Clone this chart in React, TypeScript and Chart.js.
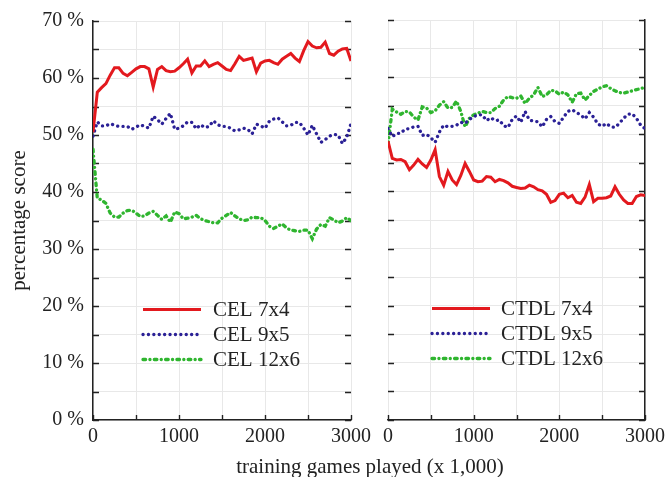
import React, { useEffect, useRef } from "react";
import { Chart, registerables } from "chart.js";
Chart.register(...registerables);

const xs = [0, 50, 100, 150, 200, 250, 300, 350, 400, 450, 500, 550, 600, 650, 700, 750, 800, 850, 900, 950, 1000, 1050, 1100, 1150, 1200, 1250, 1300, 1350, 1400, 1450, 1500, 1550, 1600, 1650, 1700, 1750, 1800, 1850, 1900, 1950, 2000, 2050, 2100, 2150, 2200, 2250, 2300, 2350, 2400, 2450, 2500, 2550, 2600, 2650, 2700, 2750, 2800, 2850, 2900, 2950, 3000];

const cel74 = [50.5, 57.5, 58.3, 59, 60.5, 61.8, 61.8, 60.8, 60.4, 61, 61.6, 62, 62, 61.6, 58.4, 61.5, 62, 61.3, 61.1, 61.2, 61.8, 62.5, 63.3, 60.9, 62.1, 62.1, 63, 62, 62.4, 62.7, 62.1, 61.5, 61.3, 62.5, 63.8, 63.1, 63.3, 63.5, 61.1, 62.6, 63, 63.1, 62.7, 62.4, 63.3, 63.8, 64.3, 63.5, 62.9, 64.8, 66.4, 65.6, 65.3, 65.4, 66.3, 64.3, 64, 64.7, 65.1, 65.2, 63];
const cel95 = [49.8, 52.3, 51.6, 51.6, 52, 51.7, 51.5, 51.5, 51.5, 51, 51.4, 51.8, 51.5, 51.2, 53.3, 52.7, 51.9, 52.9, 53.8, 51, 51.2, 51.6, 52.3, 52.2, 51.1, 51.8, 51.3, 51.5, 52.5, 51.8, 51.5, 51.5, 51.2, 50.7, 50.9, 51.2, 51, 50.2, 51.9, 51.6, 51.2, 52.4, 52.8, 53, 52.3, 51.6, 51.7, 52.2, 52.2, 51.2, 50, 51.7, 50.2, 48.7, 49.2, 49.8, 50.1, 50, 48.5, 49.6, 52];
const cel126 = [47.5, 38.9, 38.6, 38, 36.3, 35.6, 35.6, 36.3, 36.75, 36.8, 36.3, 35.7, 35.8, 36.3, 36.6, 35.9, 35.2, 35.8, 34.7, 36.5, 36.2, 35.3, 35.4, 35.6, 35.9, 35.3, 35, 34.8, 34.6, 34.6, 35.4, 35.9, 36.4, 35.8, 35.3, 35, 35.1, 35.6, 35.5, 35.5, 35, 34, 33.6, 34, 34.4, 33.7, 33.3, 33.2, 33.1, 33.3, 33.3, 31.8, 33.5, 34.3, 34, 35.5, 35.1, 34.6, 34.9, 35.5, 35];

const ctdl74 = [48.8, 45.8, 45.5, 45.6, 45.2, 43.8, 44.6, 45.6, 44.8, 44.2, 45.5, 47.3, 42.6, 41.1, 43.5, 42, 41.2, 42.8, 44.9, 43.5, 42, 41.7, 41.8, 42.6, 42.5, 41.7, 42.1, 41.9, 41.5, 40.9, 40.7, 40.5, 40.6, 41.1, 40.8, 40.3, 40.1, 39.5, 38.1, 38.4, 39.5, 39.7, 38.9, 39.3, 38.1, 37.9, 39, 41.2, 38.2, 38.8, 38.8, 38.9, 39.2, 40.8, 39.5, 38.5, 37.9, 37.9, 39.1, 39.4, 39.3];
const ctdl95 = [51, 49.6, 50.1, 50.2, 50.9, 51, 51.3, 51.4, 49.8, 50, 49.4, 48.6, 50.4, 51.6, 51.3, 51.4, 51.6, 52.1, 51.9, 52.6, 53.1, 53.4, 53.4, 52.4, 52.9, 52.4, 52.5, 51.5, 51.2, 52.6, 53.2, 52.1, 54, 52.5, 52.3, 52.2, 51.3, 52.6, 53.1, 52.2, 51.9, 53, 54, 54.3, 53.8, 53.4, 52.7, 53.8, 53, 51.8, 51.4, 51.9, 51.3, 51.2, 51.9, 52.8, 53.5, 53.6, 52.8, 51.6, 51];
const ctdl126 = [48.2, 54.4, 53.9, 53.5, 54, 53.9, 53, 52.5, 54.8, 54.6, 53.8, 54.1, 55.1, 55.7, 54.6, 54.7, 55.8, 54, 51.3, 52.8, 53.4, 53.7, 54, 53.8, 53.8, 54.5, 54.9, 56, 56.6, 56.4, 56.3, 56.7, 55.4, 56.3, 56.9, 58.2, 56.6, 56.9, 57.7, 57.6, 57, 57.4, 56.9, 55.6, 57.1, 57.2, 56, 56.8, 57.5, 57.9, 58.3, 58.5, 58, 57.6, 57.3, 57.2, 57.4, 57.6, 57.8, 58, 58.2];

const leftNames = ["CEL 7x4", "CEL 9x5", "CEL 12x6"];
const rightNames = ["CTDL 7x4", "CTDL 9x5", "CTDL 12x6"];
const yTitle = "percentage score";
const xTitle = "training games played (x 1,000)";

const FONT = '"Liberation Serif", "Times New Roman", serif';
const TEXT = "#222";
const RED = "#e3191e";
const BLUE = "#2b2196";
const GREEN = "#2fb52f";

const styles = [
  { borderColor: RED, borderWidth: 3, borderDash: [] as number[], borderCapStyle: "butt" },
  { borderColor: BLUE, borderWidth: 3.3, borderDash: [0.1, 5.3], borderCapStyle: "round" },
  { borderColor: GREEN, borderWidth: 3.3, borderDash: [2.6, 4.3, 0.1, 4.3], borderCapStyle: "round" },
];

const innerTicks = {
  id: "innerTicks",
  beforeDatasetsDraw(chart: any) {
    const { ctx, chartArea: a, scales } = chart;
    const x = scales.x;
    const y = scales.y;
    ctx.save();
    ctx.strokeStyle = TEXT;
    ctx.lineWidth = 1.4;
    ctx.beginPath();
    y.ticks.forEach((t: any) => {
      const py = Math.round(y.getPixelForValue(t.value)) + 0.5;
      ctx.moveTo(a.left, py);
      ctx.lineTo(a.left + 6, py);
      ctx.moveTo(a.right, py);
      ctx.lineTo(a.right - 6, py);
    });
    x.ticks.forEach((t: any) => {
      const px = Math.round(x.getPixelForValue(t.value)) + 0.5;
      ctx.moveTo(px, a.bottom);
      ctx.lineTo(px, a.bottom - 5);
    });
    ctx.stroke();
    ctx.restore();
  },
};

const panelLegend = {
  id: "panelLegend",
  afterDatasetsDraw(chart: any, _args: any, opts: any) {
    const { ctx, chartArea: a } = chart;
    ctx.save();
    ctx.font = `21px ${FONT}`;
    ctx.fillStyle = TEXT;
    ctx.textBaseline = "middle";
    chart.data.datasets.forEach((ds: any, i: number) => {
      const y = a.top + opts.top + i * opts.gap;
      ctx.beginPath();
      ctx.strokeStyle = ds.borderColor;
      ctx.lineWidth = ds.borderWidth;
      ctx.lineCap = ds.borderCapStyle;
      ctx.setLineDash(ds.borderDash);
      ctx.moveTo(a.left + opts.lineX, y);
      ctx.lineTo(a.left + opts.lineX + opts.lineLen, y);
      ctx.stroke();
      ctx.setLineDash([]);
      ctx.fillText(ds.label, a.left + opts.textX, y + 1);
    });
    ctx.restore();
  },
};

function makeConfig(series: number[][], names: string[], left: boolean): any {
  return {
    type: "line",
    data: {
      datasets: series.map((vals, i) => ({
        label: names[i],
        data: xs.map((x, j) => ({ x, y: vals[j] })),
        ...styles[i],
        pointRadius: 0,
        tension: 0,
        fill: false,
      })),
    },
    plugins: [innerTicks, panelLegend],
    options: {
      responsive: false,
      animation: false,
      devicePixelRatio: 1,
      layout: {
        padding: left
          ? { left: 0, right: 319, top: 20, bottom: 0 }
          : { left: 388, right: 22, top: 20, bottom: 0 },
      },
      plugins: {
        legend: { display: false },
        tooltip: { enabled: false },
        panelLegend: left
          ? { top: 288.5, gap: 25, lineX: 50, lineLen: 58, textX: 120 }
          : { top: 288.5, gap: 25, lineX: 44, lineLen: 58, textX: 113 },
      },
      scales: {
        x: {
          type: "linear",
          min: 0,
          max: 3000,
          afterFit: (s: any) => {
            s.height = 57;
          },
          grid: { color: "#e8e8e8", lineWidth: 1, drawTicks: false },
          border: { display: true, color: TEXT, width: 1.5 },
          ticks: {
            stepSize: 500,
            autoSkip: false,
            maxRotation: 0,
            padding: 5,
            color: TEXT,
            font: { family: FONT, size: 20 },
            callback: (v: number) => (v % 1000 === 0 ? String(v) : ""),
          },
        },
        y: {
          type: "linear",
          position: left ? "left" : "right",
          min: 0,
          max: 70,
          afterFit: (s: any) => {
            s.width = left ? 93 : 0;
          },
          grid: { color: "#e8e8e8", lineWidth: 1, drawTicks: false },
          border: { display: true, color: TEXT, width: 1.5 },
          title: {
            display: left,
            text: yTitle,
            color: TEXT,
            font: { family: FONT, size: 21 },
            padding: { top: 7, bottom: 0 },
          },
          ticks: {
            display: left,
            stepSize: 5,
            autoSkip: false,
            padding: 9,
            color: TEXT,
            font: { family: FONT, size: 20 },
            callback: (v: number) => (v % 10 === 0 ? `${v} %` : ""),
          },
        },
      },
    },
  };
}

export default function App() {
  const leftRef = useRef<HTMLCanvasElement>(null);
  const rightRef = useRef<HTMLCanvasElement>(null);

  useEffect(() => {
    const c1 = new Chart(leftRef.current as HTMLCanvasElement, makeConfig([cel74, cel95, cel126], leftNames, true));
    const c2 = new Chart(rightRef.current as HTMLCanvasElement, makeConfig([ctdl74, ctdl95, ctdl126], rightNames, false));
    return () => {
      c1.destroy();
      c2.destroy();
    };
  }, []);

  const canvasStyle: React.CSSProperties = { position: "absolute", left: 0, top: 0, width: 670, height: 477 };

  return (
    <div style={{ position: "absolute", left: 0, top: 0, width: 670, height: 477, background: "#fff" }}>
      <canvas ref={leftRef} width={670} height={477} style={canvasStyle} />
      <canvas ref={rightRef} width={670} height={477} style={canvasStyle} />
      <div
        style={{
          position: "absolute",
          left: 0,
          width: 740,
          top: 454,
          textAlign: "center",
          fontFamily: FONT,
          fontSize: 21,
          lineHeight: "24px",
          color: TEXT,
          whiteSpace: "nowrap",
        }}
      >
        {xTitle}
      </div>
    </div>
  );
}
